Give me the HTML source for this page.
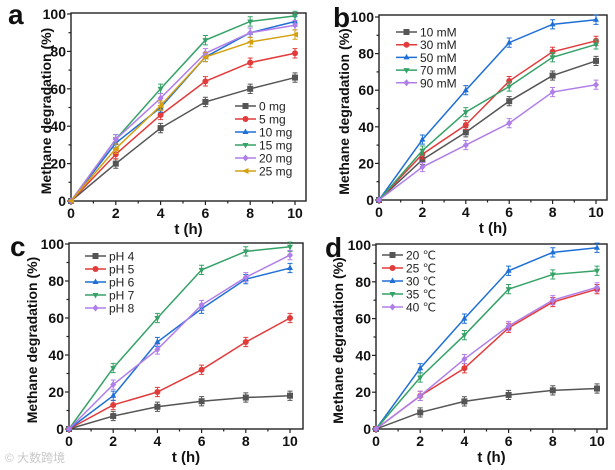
<!DOCTYPE html>
<html><head><meta charset="utf-8"><style>
html,body{margin:0;padding:0;background:#fff;}
svg{display:block;font-family:"Liberation Sans",Arial,sans-serif;}
</style></head><body>
<svg id="fig" width="615" height="470" viewBox="0 0 615 470"></svg>
<script>
const xTicks=[0,2,4,6,8,10];
const yTicks=[0,20,40,60,80,100];
const times=[0,2,4,6,8,10];
// Panel a
const aLabels=["0 mg","5 mg","10 mg","15 mg","20 mg","25 mg"];
const a0=[0,20,39,53,60,66];
const a5=[0,25,46,64,74,79];
const a10=[0,31,50,77,90,96];
const a15=[0,33,60,86,96,99];
const a20=[0,33,55,79,90,94];
const a25=[0,28,51,77,85,89];
// Panel b
const bLabels=["10 mM","30 mM","50 mM","70 mM","90 mM"];
const b10=[0,22,37,54,68,76];
const b30=[0,25,41,65,81,87];
const b50=[0,33,60,86,96,98.5];
const b70=[0,27,48,62,78,85];
const b90=[0,18,30,42,59,63];
// Panel c
const cLabels=["pH 4","pH 5","pH 6","pH 7","pH 8"];
const c4=[0,7,12,15,17,18];
const c5=[0,13,20,32,47,60];
const c6=[0,18,47,65,81,87];
const c7=[0,33,60,86,96,98.5];
const c8=[0,24,43,67,82,94];
// Panel d
const dLabels=["20 ℃","25 ℃","30 ℃","35 ℃","40 ℃"];
const d20=[0,9,15,18.5,21,22];
const d25=[0,18,33,55,69,76];
const d30=[0,33,60,86,96,98.5];
const d35=[0,28,51,76,84,86];
const d40=[0,18,38,56,70,77];

const COLORS=["#555555","#e23b3b","#1f6fd6","#35a267","#b07ee8","#d4a010"];
const MARKS=["sq","ci","tu","td","di","tl"];
const NS="http://www.w3.org/2000/svg";
const svg=document.getElementById("fig");
function mk(tag,attrs,parent){const e=document.createElementNS(NS,tag);for(const k in attrs)e.setAttribute(k,attrs[k]);(parent||svg).appendChild(e);return e;}

function marker(g,type,x,y,c){
  const s=3;let e;
  if(type==="sq")e=mk("rect",{x:x-s,y:y-s,width:2*s,height:2*s,fill:c},g);
  else if(type==="ci")e=mk("circle",{cx:x,cy:y,r:s,fill:c},g);
  else if(type==="tu")e=mk("polygon",{points:`${x},${y-s-0.5} ${x-s},${y+s-1} ${x+s},${y+s-1}`,fill:c},g);
  else if(type==="td")e=mk("polygon",{points:`${x},${y+s+0.5} ${x-s},${y-s+1} ${x+s},${y-s+1}`,fill:c},g);
  else if(type==="di")e=mk("polygon",{points:`${x},${y-s-0.5} ${x+s},${y} ${x},${y+s+0.5} ${x-s},${y}`,fill:c},g);
  else e=mk("polygon",{points:`${x-s-0.5},${y} ${x+s},${y-s} ${x+s},${y+s}`,fill:c},g);
  
  
}

function panel(cfg){
  const g=mk("g",{});
  
  
  const X=v=>cfg.x0+(v/10)*(cfg.x10-cfg.x0);
  const Y=v=>cfg.y0-(v/100)*(cfg.y0-cfg.y100);
  const box=mk("rect",{x:cfg.x0,y:cfg.top,width:cfg.right-cfg.x0,height:cfg.y0-cfg.top,fill:"none",stroke:"#222","stroke-width":1.4},g);
  
  
  for(let v=0;v<=10;v++){
    const major=v%2===0;
    const t=mk("line",{x1:X(v),x2:X(v),y1:cfg.y0,y2:cfg.y0+(major?4:2.5),stroke:"#222","stroke-width":1.2},g);
    
    
  }
  xTicks.forEach(v=>{
    const t=mk("text",{x:X(v),y:cfg.y0+17,"text-anchor":"middle","font-size":14,"font-weight":"bold",fill:"#111"},g);
    t.textContent=v;
    
    
  });
  for(let v=0;v<=100;v+=10){
    const major=v%20===0;
    const t=mk("line",{x1:cfg.x0-(major?4:2.5),x2:cfg.x0,y1:Y(v),y2:Y(v),stroke:"#222","stroke-width":1.2},g);
    
    
  }
  yTicks.forEach(v=>{
    const t=mk("text",{x:cfg.x0-5,y:Y(v)+5,"text-anchor":"end","font-size":14,"font-weight":"bold",fill:"#111"},g);
    t.textContent=v;
    
    
  });
  const xt=mk("text",{x:(cfg.x0+cfg.right)/2,y:cfg.y0+33,"text-anchor":"middle","font-size":15,"font-weight":"bold",fill:"#111"},g);
  xt.textContent="t (h)";
  
  
  const yc=(cfg.top+cfg.y0)/2+4;
  const yt=mk("text",{x:cfg.ytx,y:yc,"text-anchor":"middle","font-size":14,"font-weight":"bold",fill:"#111",transform:`rotate(-90 ${cfg.ytx} ${yc})`},g);
  yt.textContent="Methane degradation (%)";
  
  
  const lt=mk("text",{x:cfg.lx,y:cfg.ly,"font-size":28,"font-weight":"bold",fill:"#111"},g);
  lt.textContent=cfg.letter;
  
  
  cfg.series.forEach((vals,i)=>{
    const c=COLORS[i];
    const sg=mk("g",{},g);
    
    
    const pl=mk("polyline",{points:times.map((t,j)=>X(t)+","+Y(vals[j])).join(" "),fill:"none",stroke:c,"stroke-width":1.5},sg);
    
    
    times.forEach((t,j)=>{
      if(j>0){
        const e=2.5;
        const eb=mk("path",{d:`M${X(t)},${Y(vals[j]+e)}V${Y(vals[j]-e)}M${X(t)-2.5},${Y(vals[j]+e)}h5M${X(t)-2.5},${Y(vals[j]-e)}h5`,stroke:c,"stroke-width":1,fill:"none"},sg);
        
        
      }
      marker(sg,MARKS[i],X(t),Y(vals[j]),c);
    });
    const ly=cfg.legY+i*cfg.legDy;
    const lg=mk("g",{},g);
    
    
    mk("line",{x1:cfg.legX,x2:cfg.legX+21,y1:ly,y2:ly,stroke:c,"stroke-width":1.5},lg);
    marker(lg,MARKS[i],cfg.legX+10.5,ly,c);
    const tx=mk("text",{x:cfg.legX+24,y:ly+4.5,"font-size":12,fill:"#222"},lg);
    tx.textContent=cfg.labels[i];
  });
}

panel({letter:"a",x0:71,x10:295,right:306,top:13,y0:201,y100:14,ytx:51,lx:8,ly:24,labels:aLabels,series:[a0,a5,a10,a15,a20,a25],legX:235,legY:106,legDy:13});
panel({letter:"b",x0:379,x10:596,right:607,top:15,y0:200,y100:17,ytx:349,lx:333,ly:27,labels:bLabels,series:[b10,b30,b50,b70,b90],legX:396,legY:32,legDy:12.7});
panel({letter:"c",x0:69,x10:290,right:303,top:243,y0:429,y100:244,ytx:37,lx:10,ly:256,labels:cLabels,series:[c4,c5,c6,c7,c8],legX:85,legY:256,legDy:13});
panel({letter:"d",x0:376,x10:597,right:607,top:244,y0:429,y100:245,ytx:343,lx:325,ly:257,labels:dLabels,series:[d20,d25,d30,d35,d40],legX:382,legY:255,legDy:13});
const wm=mk("text",{x:5,y:462,"font-size":12,fill:"#c8c8c8"});
wm.textContent="© 大数跨境";


</script>
</body></html>
